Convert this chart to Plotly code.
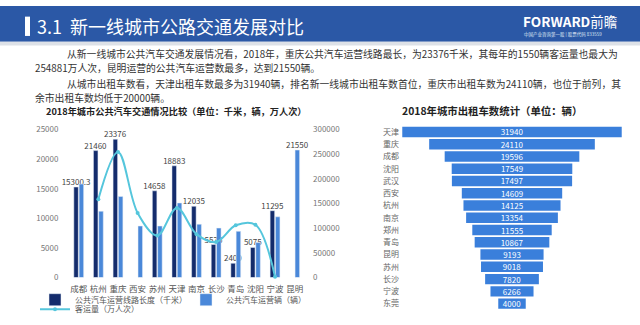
import plotly.graph_objects as go

W, H = 640, 325
FONT = "Noto Sans CJK SC"

# ---- data: left chart ----
cities = ['成都', '杭州', '重庆', '西安', '苏州', '天津', '南京', '长沙', '青岛', '沈阳', '宁波', '昆明']
route_len = [15300.3, 21460, 23376, None, 14658, 18883, 12035, 5575, 2400, 5075, 11295, None]
vehicles = [15800, 11200, 13700, 8700, 8700, 12600, 9000, 8350, 7800, 5900, 10260, 21550]
passengers = [None, 159000, 254881, 131000, 85000, 141000, 88000, 72000, 106000, 107000, 1500, None]
route_labels = ['15300.3', '21460', '23376', '', '14658', '18883', '12035', '5575', '2400', '5075', '11295', '']
vehicle_labels = ['', '', '', '', '', '', '', '', '', '', '', '21550']
passenger_labels = ['', '', '254881', '', '', '', '', '', '', '', '', '']

# ---- data: right chart ----
taxi_cities = ['天津', '重庆', '成都', '沈阳', '武汉', '西安', '杭州', '南京', '郑州', '青岛', '昆明', '苏州', '长沙', '宁波', '东莞']
taxi_counts = [31940, 24110, 19596, 17549, 17497, 14609, 14125, 13354, 11555, 10867, 9193, 9018, 7820, 6266, 4000]

left_ticks = [0, 5000, 10000, 15000, 20000, 25000]
right_ticks = [0, 50000, 100000, 150000, 200000, 250000, 300000]


def px(x):
    return x / W


def py(y):
    return 1 - y / H


fig = go.Figure()

fig.add_trace(go.Bar(
    x=cities, y=route_len, name='公共汽车运营线路长度（千米）',
    marker_color='#142c6c', text=route_labels, textposition='outside',
    textfont=dict(size=8, color='#444'), cliponaxis=False, constraintext='none',
    xaxis='x', yaxis='y', legend='legend'))
fig.add_trace(go.Bar(
    x=cities, y=vehicles, name='公共汽车运营辆（辆）',
    marker_color='#4a88d9', text=vehicle_labels, textposition='outside',
    textfont=dict(size=8, color='#444'), cliponaxis=False, constraintext='none',
    xaxis='x', yaxis='y', legend='legend'))
fig.add_trace(go.Scatter(
    x=cities, y=passengers, name='客运量（万人次）', mode='lines+markers+text',
    line=dict(color='#55c6dc', width=2, shape='spline', smoothing=1),
    marker=dict(size=4, color='#55c6dc'),
    text=passenger_labels, textposition='middle right',
    textfont=dict(size=8, color='#444'), cliponaxis=False,
    xaxis='x', yaxis='y2', legend='legend2'))

fig.add_trace(go.Funnel(
    y=taxi_cities, x=taxi_counts, text=[str(v) for v in taxi_counts],
    textinfo='text', textposition='inside', constraintext='none', textangle=0,
    insidetextfont=dict(size=8, color='white'),
    marker=dict(color='#3a7fdb'), connector=dict(visible=False),
    showlegend=False, xaxis='x3', yaxis='y3'))

fig.update_layout(
    width=W, height=H, margin=dict(l=0, r=0, t=0, b=0),
    paper_bgcolor='white', plot_bgcolor='rgba(0,0,0,0)',
    font=dict(family=FONT, color='#444'),
    barmode='group', bargap=0.46, bargroupgap=0.15, funnelgap=0.15,
    xaxis=dict(domain=[px(63.4), px(310)], showgrid=False, zeroline=False,
               showline=False, ticks='', tickfont=dict(size=8.5, color='#555'),
               ticklabelstandoff=5, fixedrange=True),
    yaxis=dict(domain=[py(281), py(128)], range=[0, 25000], tickvals=left_ticks,
               tickformat='d',
               showgrid=False, zeroline=False, showline=False, ticks='',
               tickfont=dict(size=8, color='#777'), ticklabelstandoff=4),
    yaxis2=dict(overlaying='y', side='right', range=[0, 300000], tickvals=right_ticks,
                tickformat='d',
                showgrid=False, zeroline=False, showline=False, ticks='',
                tickfont=dict(size=8, color='#777'), ticklabelstandoff=2),
    xaxis3=dict(domain=[px(400), px(624)], range=[-16300, 16300], visible=False,
                anchor='y3'),
    yaxis3=dict(domain=[py(314.4), py(124)], range=[14.5, -0.5], anchor='x3',
                showgrid=False, zeroline=False, showline=False, ticks='',
                tickfont=dict(size=8, color='#666')),
    legend=dict(orientation='h', x=px(35), y=py(304), xanchor='left', yanchor='middle',
                font=dict(size=8, color='#555'), bgcolor='rgba(0,0,0,0)',
                entrywidth=106, entrywidthmode='pixels', borderwidth=0),
    legend2=dict(orientation='h', x=px(35), y=py(314), xanchor='left', yanchor='middle',
                 font=dict(size=8, color='#555'), bgcolor='rgba(0,0,0,0)',
                 borderwidth=0),
)

shapes = [
    dict(type='rect', xref='paper', yref='paper', x0=0, x1=1, y0=py(37), y1=1,
         fillcolor='#2b58a6', line=dict(width=0), layer='below'),
    dict(type='rect', xref='paper', yref='paper', x0=0, x1=1, y0=py(41), y1=py(37),
         fillcolor='#dde1e7', line=dict(width=0), layer='below'),
    dict(type='rect', xref='paper', yref='paper', x0=px(25), x1=px(30), y0=py(31), y1=py(11),
         fillcolor='white', line=dict(width=0)),
]
fig.update_layout(shapes=shapes)

ann = []


def add_text(x, y, s, size, color='#333', anchor='left', bold=False):
    if bold:
        s = '<b>' + s + '</b>'
    ann.append(dict(x=px(x), y=py(y), xref='paper', yref='paper', text=s,
                    showarrow=False, xanchor=anchor, yanchor='middle',
                    font=dict(size=size, color=color, family=FONT)))


add_text(35, 21, '3.1  新一线城市公路交通发展对比', 18, 'white')
add_text(521, 16, '<b>F</b><b>ORWARD</b>前瞻', 13.5, 'white')
add_text(522, 29, '中国产业咨询第一股 | 股票代码 833559', 4.5, '#dfe6f3')

add_text(65, 50, '从新一线城市公共汽车交通发展情况看，2018年，重庆公共汽车运营线路最长，为23376千米，其每年的1550辆客运量也最大为', 9.8)
add_text(33, 64.5, '254881万人次，昆明运营的公共汽车运营数最多，达到21550辆。', 9.8)
add_text(65, 80.5, '从城市出租车数看，天津出租车数最多为31940辆，排名新一线城市出租车数首位，重庆市出租车数为24110辆，也位于前列，其', 9.8)
add_text(33, 95, '余市出租车数均低于20000辆。', 9.8)

add_text(176, 108.5, '2018年城市公共汽车交通情况比较（单位：千米，辆，万人次）', 9.2, '#222', 'center', True)
add_text(492, 108.5, '2018年城市出租车数统计（单位：辆）', 10.4, '#222', 'center', True)

fig.update_layout(annotations=ann)

fig.write_html('out.html')
